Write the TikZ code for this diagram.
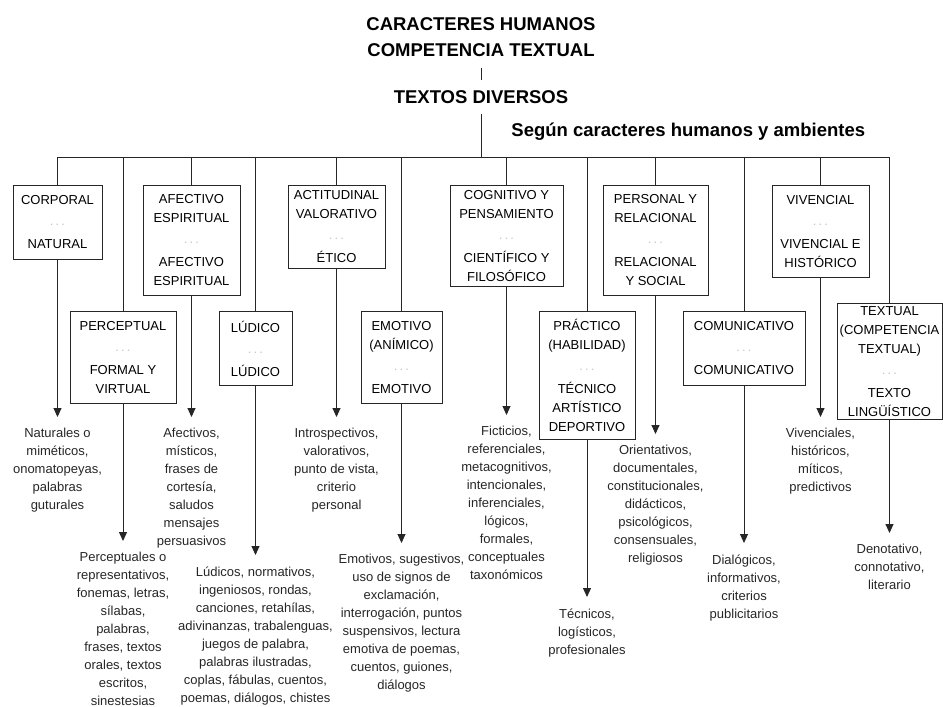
\documentclass[tikz,border=0pt]{standalone}
\usepackage{fontspec}
\setmainfont{Liberation Sans}
\usetikzlibrary{arrows.meta}
\newcommand{\puntos}{{\color{gray!45}.\,.\,.}}
\begin{document}
\begin{tikzpicture}[x=1pt,y=-1pt,line width=0.9pt,draw=black!85,
	titulo/.style={font=\bfseries\fontsize{18.5}{26}\selectfont,align=center},
	caja/.style={draw,align=center,inner sep=0pt,anchor=north,font=\fontsize{13}{19}\selectfont},
	hoja/.style={align=center,anchor=north,inner xsep=1pt,inner ysep=11pt,text=black!85,
		font=\fontsize{13}{18}\selectfont},
	flecha/.style={-{Triangle[length=9pt,width=8pt]}}]
\useasboundingbox (0,0) rectangle (943,707);
% cabecera
\node[titulo,inner ysep=11pt] (car) at (481,37) {CARACTERES HUMANOS\\COMPETENCIA TEXTUAL};
\node[titulo,inner ysep=10pt] (div) at (481,97) {TEXTOS DIVERSOS};
\coordinate (hub) at (481,157);
\node[titulo,anchor=base west,inner sep=0pt] (seg) at (511,136) {Según caracteres humanos y ambientes};
% categorias
\node[caja,minimum width=89,minimum height=74] (cor) at (57.5,185) {CORPORAL\\[2pt]\puntos\\[4pt]NATURAL};
\node[caja,minimum width=106,minimum height=92] (per) at (123,311) {PERCEPTUAL\\[2pt]\puntos\\[4pt]FORMAL Y\\VIRTUAL};
\node[caja,minimum width=97,minimum height=110] (afe) at (191.5,185) {AFECTIVO\\ESPIRITUAL\\[2pt]\puntos\\[4pt]AFECTIVO\\ESPIRITUAL};
\node[caja,minimum width=73,minimum height=74] (lud) at (255.5,311) {LÚDICO\\[2pt]\puntos\\[4pt]LÚDICO};
\node[caja,minimum width=97,minimum height=83] (act) at (336.5,185) {ACTITUDINAL\\VALORATIVO\\[2pt]\puntos\\[4pt]ÉTICO};
\node[caja,minimum width=81,minimum height=92] (emo) at (401.5,311) {EMOTIVO\\(ANÍMICO)\\[2pt]\puntos\\[4pt]EMOTIVO};
\node[caja,minimum width=113,minimum height=101] (cog) at (506.5,185) {COGNITIVO Y\\PENSAMIENTO\\[2pt]\puntos\\[4pt]CIENTÍFICO Y\\FILOSÓFICO};
\node[caja,minimum width=96,minimum height=128] (pra) at (587,311) {PRÁCTICO\\(HABILIDAD)\\[2pt]\puntos\\[4pt]TÉCNICO\\ARTÍSTICO\\DEPORTIVO};
\node[caja,minimum width=105,minimum height=110] (pers) at (655.5,185) {PERSONAL Y\\RELACIONAL\\[2pt]\puntos\\[4pt]RELACIONAL\\Y SOCIAL};
\node[caja,minimum width=122,minimum height=74] (com) at (744,311) {COMUNICATIVO\\[2pt]\puntos\\[4pt]COMUNICATIVO};
\node[caja,minimum width=97,minimum height=92] (viv) at (820.5,185) {VIVENCIAL\\[2pt]\puntos\\[4pt]VIVENCIAL E\\HISTÓRICO};
\node[caja,minimum width=105,minimum height=116] (tex) at (889.5,303) {TEXTUAL\\(COMPETENCIA\\TEXTUAL)\\[2pt]\puntos\\[4pt]TEXTO\\LINGÜÍSTICO};
% tipos de texto
\node[hoja] (nat) at (57.5,417) {Naturales o\\miméticos,\\onomatopeyas,\\palabras\\guturales};
\node[hoja] (perc) at (123,541) {Perceptuales o\\representativos,\\fonemas, letras,\\sílabas,\\palabras,\\frases, textos\\orales, textos\\escritos,\\sinestesias};
\node[hoja] (afec) at (191.5,417) {Afectivos,\\místicos,\\frases de\\cortesía,\\saludos\\mensajes\\persuasivos};
\node[hoja] (ludi) at (255.5,555) {Lúdicos, normativos,\\ingeniosos, rondas,\\canciones, retahílas,\\adivinanzas, trabalenguas,\\juegos de palabra,\\palabras ilustradas,\\coplas, fábulas, cuentos,\\poemas, diálogos, chistes};
\node[hoja] (intro) at (336.5,417) {Introspectivos,\\valorativos,\\punto de vista,\\criterio\\personal};
\node[hoja] (emot) at (401.5,543) {Emotivos, sugestivos,\\uso de signos de\\exclamación,\\interrogación, puntos\\suspensivos, lectura\\emotiva de poemas,\\cuentos, guiones,\\diálogos};
\node[hoja] (fic) at (506.5,415) {Ficticios,\\referenciales,\\metacognitivos,\\intencionales,\\inferenciales,\\lógicos,\\formales,\\conceptuales\\taxonómicos};
\node[hoja] (tecn) at (587,597) {Técnicos,\\logísticos,\\profesionales};
\node[hoja] (ori) at (655.5,434) {Orientativos,\\documentales,\\constitucionales,\\didácticos,\\psicológicos,\\consensuales,\\religiosos};
\node[hoja] (dia) at (744,543) {Dialógicos,\\informativos,\\criterios\\publicitarios};
\node[hoja] (vive) at (820.5,417) {Vivenciales,\\históricos,\\míticos,\\predictivos};
\node[hoja] (deno) at (889.5,533) {Denotativo,\\connotativo,\\literario};
% conectores
\draw (car) -- (div);
\draw (div) -- (hub);
\draw (cor.north |- hub) -- (tex.north |- hub);
\foreach \c in {cor,per,afe,lud,act,emo,cog,pra,pers,com,viv,tex}
	\draw (\c.north |- hub) -- (\c);
\foreach \c/\h in {cor/nat,per/perc,afe/afec,lud/ludi,act/intro,emo/emot,cog/fic,pra/tecn,pers/ori,com/dia,viv/vive,tex/deno}
	\draw[flecha] (\c) -- (\h);
\end{tikzpicture}
\end{document}
